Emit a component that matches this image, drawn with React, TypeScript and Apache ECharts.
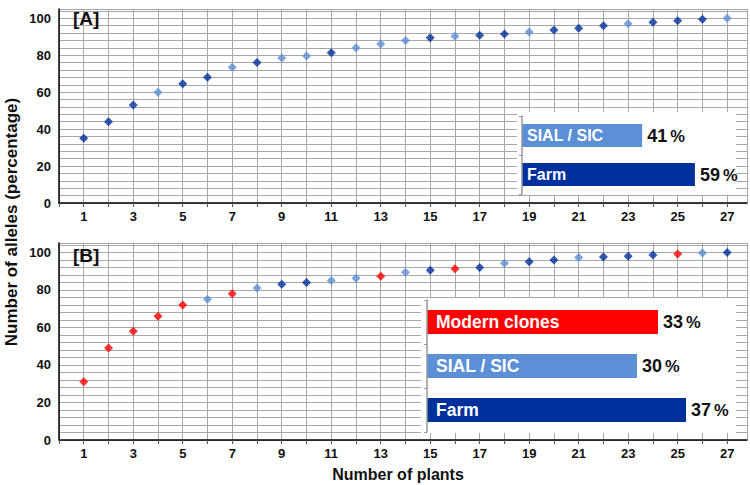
import React, { useEffect, useRef } from "react";
import * as echarts from "echarts";

const plants = [1, 2, 3, 4, 5, 6, 7, 8, 9, 10, 11, 12, 13, 14, 15, 16, 17, 18, 19, 20, 21, 22, 23, 24, 25, 26, 27];
const allelesA = [35, 44, 53, 60, 64.5, 68, 73.5, 76, 78.5, 79.5, 81.3, 84, 86, 88, 89.4, 90.2, 90.8, 91.5, 92.6, 93.7, 94.6, 95.9, 97, 97.8, 98.6, 99.4, 100];
const groupA = ["F", "F", "F", "S", "F", "F", "S", "F", "S", "S", "F", "S", "S", "S", "F", "S", "F", "F", "S", "F", "F", "F", "S", "F", "F", "F", "S"];
const allelesB = [31, 49, 58, 66, 72, 75, 78, 81, 83, 84, 85, 86.2, 87.3, 89.4, 90.5, 91.3, 92, 94.2, 95, 96, 97.3, 97.6, 98, 98.6, 99.2, 99.7, 100];
const groupB = ["M", "M", "M", "M", "M", "S", "M", "S", "F", "F", "S", "S", "M", "S", "F", "M", "F", "S", "F", "F", "S", "F", "F", "F", "M", "S", "F"];

const insetCatsA = ["SIAL / SIC", "Farm"];
const insetValsA = [41, 59];
const insetCatsB = ["Modern clones", "SIAL / SIC", "Farm"];
const insetValsB = [33, 30, 37];

const yTickLabels = [0, 20, 40, 60, 80, 100];
const xTickLabels = [1, 3, 5, 7, 9, 11, 13, 15, 17, 19, 21, 23, 25, 27];

const COLORS: Record<string, string> = { F: "#00309c", S: "#5b8fd6", M: "#ff0000" };
const catColor: Record<string, string> = { "Modern clones": COLORS.M, "SIAL / SIC": COLORS.S, Farm: COLORS.F };

const FONT = "Liberation Sans, Arial, sans-serif";
const GRIDC = "#a8a8a8";

function mainX(gi: number) {
  return {
    type: "value",
    gridIndex: gi,
    min: 0,
    max: 27.8,
    interval: 1,
    axisLine: { show: true, onZero: false, lineStyle: { color: "#000", width: 1.5 } },
    axisTick: { show: true, length: 4, lineStyle: { color: "#555" } },
    splitLine: { show: true, lineStyle: { color: GRIDC, width: 1 } },
    axisLabel: {
      margin: 7,
      fontFamily: FONT,
      fontWeight: "bold",
      fontSize: 13,
      color: "#111",
      showMaxLabel: false,
      formatter: (v: number) => (xTickLabels.includes(v) ? String(v) : ""),
    },
  };
}

function mainY(gi: number) {
  return {
    type: "value",
    gridIndex: gi,
    min: 0,
    max: 105,
    interval: 4,
    axisLine: { show: true, lineStyle: { color: "#000", width: 1.5 } },
    axisTick: { show: false },
    splitLine: { show: true, lineStyle: { color: GRIDC, width: 1 } },
    axisLabel: {
      margin: 8,
      fontFamily: FONT,
      fontWeight: "bold",
      fontSize: 13,
      color: "#111",
      showMaxLabel: false,
      formatter: (v: number) => (yTickLabels.includes(v) ? String(v) : ""),
    },
  };
}

function scatterData(vals: number[], groups: string[]) {
  return vals.map((v, i) => ({
    value: [plants[i], v],
    itemStyle: { color: COLORS[groups[i]] },
  }));
}

function insetY(gi: number, cats: string[], margin: number, fs: number) {
  return {
    type: "category",
    gridIndex: gi,
    data: cats,
    inverse: true,
    z: 10,
    axisLine: { show: true, lineStyle: { color: "#999", width: 1.5 } },
    axisTick: { show: true, length: 3, lineStyle: { color: "#999" } },
    axisLabel: {
      inside: true,
      margin,
      color: "#fff",
      fontFamily: FONT,
      fontWeight: "bold",
      fontSize: fs,
    },
    splitLine: { show: false },
  };
}

function insetX(gi: number, max: number) {
  return {
    type: "value",
    gridIndex: gi,
    min: 0,
    max,
    show: false,
  };
}

function insetSeries(xi: number, cats: string[], vals: number[], barW: string) {
  return {
    type: "bar",
    xAxisIndex: xi,
    yAxisIndex: xi,
    barWidth: barW,
    z: 5,
    data: vals.map((v, i) => ({
      value: v,
      itemStyle: { color: catColor[cats[i]] },
    })),
    label: {
      show: true,
      position: "right",
      distance: 5,
      formatter: (p: any) => `{n|${p.value}}{s| }{p|%}`,
      rich: {
        n: { fontFamily: FONT, fontWeight: "bold", fontSize: 18, color: "#111" },
        s: { fontFamily: FONT, fontSize: 11 },
        p: { fontFamily: FONT, fontWeight: "bold", fontSize: 16.5, color: "#111" },
      },
    },
  };
}

export default function App() {
  const ref = useRef<HTMLDivElement>(null);
  useEffect(() => {
    if (!ref.current) return;
    const chart = echarts.init(ref.current, null, { renderer: "svg" });
    const option: any = {
      animation: false,
      backgroundColor: "#fff",
      grid: [
        { left: 59, right: 3, top: 9, height: 194 },
        { left: 59, right: 3, top: 243, height: 197 },
        { left: 522, right: 17, top: 116, height: 78 },
        { left: 427, right: 15, top: 300, height: 132 },
      ],
      xAxis: [mainX(0), mainX(1), insetX(2, 72), insetX(3, 44)],
      yAxis: [
        mainY(0),
        mainY(1),
        insetY(2, insetCatsA, 5, 16),
        insetY(3, insetCatsB, 9, 17.5),
      ],
      graphic: [
        { type: "rect", z: 1, shape: { x: 517, y: 112, width: 219, height: 83 }, style: { fill: "#fff" } },
        { type: "rect", z: 1, shape: { x: 421, y: 298, width: 315, height: 135 }, style: { fill: "#fff" } },
        { type: "text", z: 20, left: 73, top: 9, style: { text: "[A]", font: `bold 19px ${FONT}`, fill: "#111" } },
        { type: "text", z: 20, left: 73, top: 246, style: { text: "[B]", font: `bold 19px ${FONT}`, fill: "#111" } },
        {
          type: "text",
          z: 20,
          x: 11,
          y: 222,
          rotation: Math.PI / 2,
          style: {
            text: "Number of alleles (percentage)",
            font: `bold 17px ${FONT}`,
            fill: "#111",
            align: "center",
            verticalAlign: "middle",
          },
        },
        {
          type: "text",
          z: 20,
          x: 398,
          y: 474,
          style: {
            text: "Number of plants",
            font: `bold 16px ${FONT}`,
            fill: "#111",
            align: "center",
            verticalAlign: "middle",
          },
        },
      ],
      series: [
        {
          type: "scatter",
          xAxisIndex: 0,
          yAxisIndex: 0,
          symbol: "diamond",
          symbolSize: [9, 9],
          z: 4,
          data: scatterData(allelesA, groupA),
        },
        {
          type: "scatter",
          xAxisIndex: 1,
          yAxisIndex: 1,
          symbol: "diamond",
          symbolSize: [9, 9],
          z: 4,
          data: scatterData(allelesB, groupB),
        },
        insetSeries(2, insetCatsA, insetValsA, "59%"),
        insetSeries(3, insetCatsB, insetValsB, "54%"),
      ],
    };
    chart.setOption(option);
    return () => chart.dispose();
  }, []);
  return (
    <div
      ref={ref}
      style={{ position: "fixed", left: 0, top: 0, width: 750, height: 485 }}
    />
  );
}
